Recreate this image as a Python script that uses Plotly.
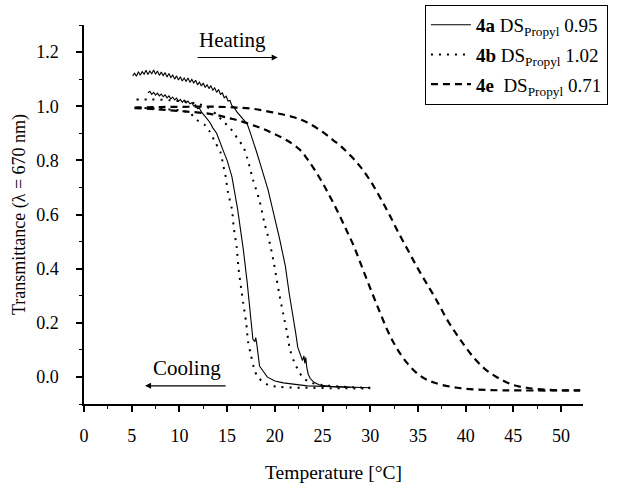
import plotly.graph_objects as go

# ---- data ----
# 4a, heating run (upper solid curve, right branch)
a_heat_T = [5.1, 5.3, 5.5, 5.7, 5.9, 6.1, 6.3, 6.5, 6.7, 6.9, 7.1, 7.3, 7.5, 7.7, 7.9, 8.1, 8.3, 8.5, 8.7, 8.9,
            9.1, 9.3, 9.5, 9.7, 9.9, 10.1, 10.3, 10.5, 10.7, 10.9, 11.1, 11.3, 11.5, 11.7, 11.9, 12.1, 12.3,
            12.5, 12.7, 12.9, 13.1, 13.3, 13.5, 13.7, 13.9, 14.1, 14.3, 14.5, 14.7, 14.9, 15.1, 15.3, 15.5,
            15.7, 16.0, 16.3, 16.6, 16.9, 17.1, 17.4, 17.6, 17.9, 18.1, 18.4, 18.8, 19.3, 19.6, 20.0, 20.5,
            20.8, 21.1, 21.5, 21.9, 22.2, 22.4, 22.7, 22.9, 23.05, 23.15, 23.25, 23.35, 23.5, 23.7, 24.1,
            24.7, 26.0, 28.0, 30.0]
a_heat_v = [1.112, 1.122, 1.111, 1.127, 1.114, 1.128, 1.118, 1.133, 1.117, 1.130, 1.120, 1.134, 1.118, 1.130,
            1.114, 1.126, 1.113, 1.124, 1.108, 1.121, 1.106, 1.115, 1.100, 1.112, 1.097, 1.109, 1.093, 1.104,
            1.092, 1.104, 1.088, 1.099, 1.086, 1.096, 1.079, 1.089, 1.075, 1.086, 1.069, 1.079, 1.065, 1.076,
            1.059, 1.068, 1.051, 1.062, 1.044, 1.049, 1.031, 1.037, 1.019, 1.021, 1.002, 0.998, 0.980, 0.968,
            0.958, 0.946, 0.935, 0.905, 0.885, 0.852, 0.830, 0.795, 0.750, 0.690, 0.645, 0.590, 0.510, 0.460,
            0.410, 0.310, 0.230, 0.160, 0.110, 0.075, 0.060, 0.078, 0.050, 0.072, 0.035, 0.010, -0.005, -0.020,
            -0.030, -0.036, -0.038, -0.040]

# 4a, cooling run (lower solid curve, left branch)
a_cool_T = [6.7, 6.9, 7.1, 7.3, 7.5, 7.7, 7.9, 8.1, 8.3, 8.5, 8.7, 8.9, 9.1, 9.3, 9.5, 9.7, 9.9, 10.1, 10.3,
            10.5, 10.7, 10.9, 11.1, 11.3, 11.5, 11.7, 11.9, 12.1, 12.3, 12.5, 12.8, 13.2, 13.5, 13.9, 14.3,
            14.6, 15.0, 15.5, 16.1, 16.4, 16.7, 17.1, 17.3, 17.4, 17.7, 17.9, 18.0, 18.1, 18.2, 18.4, 18.8,
            19.2, 20.0, 20.9, 23.4, 26.0, 28.0]
a_cool_v = [1.050, 1.055, 1.044, 1.051, 1.041, 1.048, 1.038, 1.045, 1.035, 1.042, 1.031, 1.038, 1.027, 1.034,
            1.023, 1.030, 1.018, 1.025, 1.014, 1.022, 1.012, 1.019, 1.009, 1.013, 1.001, 1.005, 0.991, 0.993,
            0.979, 0.972, 0.958, 0.940, 0.920, 0.900, 0.860, 0.835, 0.800, 0.740, 0.620, 0.545, 0.470, 0.350,
            0.280, 0.240, 0.140, 0.130, 0.145, 0.125, 0.090, 0.040, 0.020, 0.000, -0.015, -0.022, -0.033,
            -0.036, -0.038]

# 4b, heating run (dotted, right branch)
b_heat_T = [5.5, 7.0, 9.0, 11.0, 12.0, 13.0, 14.0, 14.7, 15.3, 16.1, 16.7, 17.1, 17.7, 18.4, 18.9, 19.5, 19.9,
            20.2, 20.5, 20.9, 21.3, 21.6, 22.1, 22.9, 23.7, 25.0, 27.0, 30.0]
b_heat_v = [1.025, 1.025, 1.022, 1.015, 1.008, 0.995, 0.965, 0.940, 0.920, 0.880, 0.850, 0.810, 0.730, 0.650,
            0.570, 0.490, 0.420, 0.360, 0.300, 0.230, 0.160, 0.100, 0.050, 0.000, -0.020, -0.030, -0.036,
            -0.040]

# 4b, cooling run (dotted, left branch)
b_cool_T = [5.5, 8.0, 10.0, 11.1, 11.8, 12.7, 13.2, 13.7, 14.3, 14.6, 14.8, 15.1, 15.5, 15.7, 16.0, 16.2, 16.5,
            16.7, 17.0, 17.2, 17.5, 17.8, 18.2, 19.3, 20.5, 23.0, 27.0, 30.0]
b_cool_v = [0.995, 0.990, 0.985, 0.975, 0.950, 0.930, 0.905, 0.870, 0.830, 0.780, 0.750, 0.680, 0.620, 0.550,
            0.480, 0.400, 0.320, 0.270, 0.200, 0.130, 0.080, 0.035, 0.000, -0.030, -0.037, -0.040, -0.042,
            -0.043]

# 4e, heating run (dashed, right branch)
e_heat_T = [5.3, 8.0, 11.0, 14.0, 16.0, 17.8, 19.8, 21.9, 23.4, 25.0, 26.1, 27.0, 28.0, 29.0, 30.0, 31.0, 32.0,
            33.0, 34.0, 35.0, 36.0, 37.0, 38.0, 39.0, 40.0, 41.0, 42.0, 43.0, 44.0, 45.0, 46.4, 48.8, 52.0]
e_heat_v = [0.995, 0.997, 0.998, 0.998, 0.995, 0.990, 0.977, 0.960, 0.940, 0.905, 0.875, 0.850, 0.815, 0.775,
            0.725, 0.665, 0.600, 0.530, 0.465, 0.400, 0.340, 0.280, 0.215, 0.160, 0.110, 0.065, 0.030, 0.005,
            -0.015, -0.030, -0.040, -0.048, -0.050]

# 4e, cooling run (dashed, left branch)
e_cool_T = [5.3, 9.0, 13.5, 15.3, 16.4, 18.1, 19.5, 21.2, 22.6, 23.5, 24.7, 25.8, 26.8, 27.6, 28.2, 29.2, 30.2,
            31.0, 31.9, 32.8, 33.9, 35.2, 36.6, 39.1, 42.2, 46.0, 52.0]
e_cool_v = [0.993, 0.985, 0.970, 0.955, 0.945, 0.925, 0.905, 0.875, 0.840, 0.800, 0.735, 0.665, 0.595, 0.535,
            0.490, 0.400, 0.310, 0.240, 0.165, 0.105, 0.050, 0.005, -0.020, -0.040, -0.048, -0.050, -0.050]

x_ticks = [0, 5, 10, 15, 20, 25, 30, 35, 40, 45, 50]
y_ticks = [0.0, 0.2, 0.4, 0.6, 0.8, 1.0, 1.2]

legend_names = ["<b>4a</b> DS<sub>Propyl</sub> 0.95",
                "<b>4b</b> DS<sub>Propyl</sub> 1.02",
                "<b>4e</b>\u00a0 DS<sub>Propyl</sub> 0.71"]

FONT = "Liberation Serif"
BLACK = "#000000"

fig = go.Figure()

solid = dict(color=BLACK, width=1.1)
dotted = dict(color=BLACK, width=2, dash="2px,6px")
dashed = dict(color=BLACK, width=2.2, dash="7px,5px")

fig.add_trace(go.Scatter(x=a_heat_T, y=a_heat_v, mode="lines", line=solid,
                         name=legend_names[0], legendgroup="a"))
fig.add_trace(go.Scatter(x=a_cool_T, y=a_cool_v, mode="lines", line=solid,
                         showlegend=False, legendgroup="a"))
fig.add_trace(go.Scatter(x=b_heat_T, y=b_heat_v, mode="lines", line=dotted,
                         line_shape="spline", line_smoothing=0.8,
                         name=legend_names[1], legendgroup="b"))
fig.add_trace(go.Scatter(x=b_cool_T, y=b_cool_v, mode="lines", line=dotted,
                         line_shape="spline", line_smoothing=0.8,
                         showlegend=False, legendgroup="b"))
fig.add_trace(go.Scatter(x=e_heat_T, y=e_heat_v, mode="lines", line=dashed,
                         line_shape="spline", line_smoothing=1.0,
                         name=legend_names[2], legendgroup="e"))
fig.add_trace(go.Scatter(x=e_cool_T, y=e_cool_v, mode="lines", line=dashed,
                         line_shape="spline", line_smoothing=1.0,
                         showlegend=False, legendgroup="e"))

# Heating / Cooling labels with arrows
fig.add_annotation(x=15.6, y=1.245, text="Heating", showarrow=False,
                   font=dict(family=FONT, size=21, color=BLACK))
fig.add_annotation(x=20.3, y=1.18, ax=11.75, ay=1.18, xref="x", yref="y", axref="x", ayref="y",
                   text="", showarrow=True, arrowhead=2, arrowsize=1, arrowwidth=1.2, arrowcolor=BLACK)
fig.add_annotation(x=10.8, y=0.033, text="Cooling", showarrow=False,
                   font=dict(family=FONT, size=21, color=BLACK))
fig.add_annotation(x=6.4, y=-0.033, ax=15.0, ay=-0.033, xref="x", yref="y", axref="x", ayref="y",
                   text="", showarrow=True, arrowhead=2, arrowsize=1, arrowwidth=1.2, arrowcolor=BLACK)

fig.update_layout(
    width=622, height=493,
    margin=dict(l=84, r=39, t=25, b=89, autoexpand=False),
    paper_bgcolor="white", plot_bgcolor="white",
    font=dict(family=FONT, size=18, color=BLACK),
    showlegend=True,
    legend=dict(x=1.050, y=1.053, xanchor="right", yanchor="top",
                bordercolor=BLACK, borderwidth=1, bgcolor="white",
                font=dict(family=FONT, size=19, color=BLACK),
                tracegroupgap=2, itemwidth=40),
    xaxis=dict(range=[0, 52.3], tickvals=x_ticks, ticktext=[str(v) for v in x_ticks],
               showgrid=False, zeroline=False, showline=True, linecolor=BLACK, linewidth=1.5,
               ticks="outside", ticklen=6, tickwidth=1.5, tickcolor=BLACK, automargin=False,
               ticklabelstandoff=9,
               minor=dict(dtick=2.5, tick0=0, ticks="outside", ticklen=3, tickwidth=1.2, tickcolor=BLACK),
               title=dict(text="Temperature [°C]", font=dict(family=FONT, size=19.5, color=BLACK),
                          standoff=20),
               tickfont=dict(family=FONT, size=18, color=BLACK)),
    yaxis=dict(range=[-0.1, 1.3], tickvals=y_ticks, ticktext=[f"{v:.1f}" for v in y_ticks],
               showgrid=False, zeroline=False, showline=True, linecolor=BLACK, linewidth=1.5,
               ticks="outside", ticklen=6, tickwidth=1.5, tickcolor=BLACK, automargin=False,
               ticklabelstandoff=14,
               minor=dict(dtick=0.1, tick0=0, ticks="outside", ticklen=3, tickwidth=1.2, tickcolor=BLACK),
               title=dict(text="Transmittance (λ = 670 nm)", font=dict(family=FONT, size=18, color=BLACK),
                          standoff=6),
               tickfont=dict(family=FONT, size=18, color=BLACK)),
)

fig.write_html("out.html", config={"displayModeBar": False},
               post_script="document.body.style.margin='0';document.body.style.padding='0';")
